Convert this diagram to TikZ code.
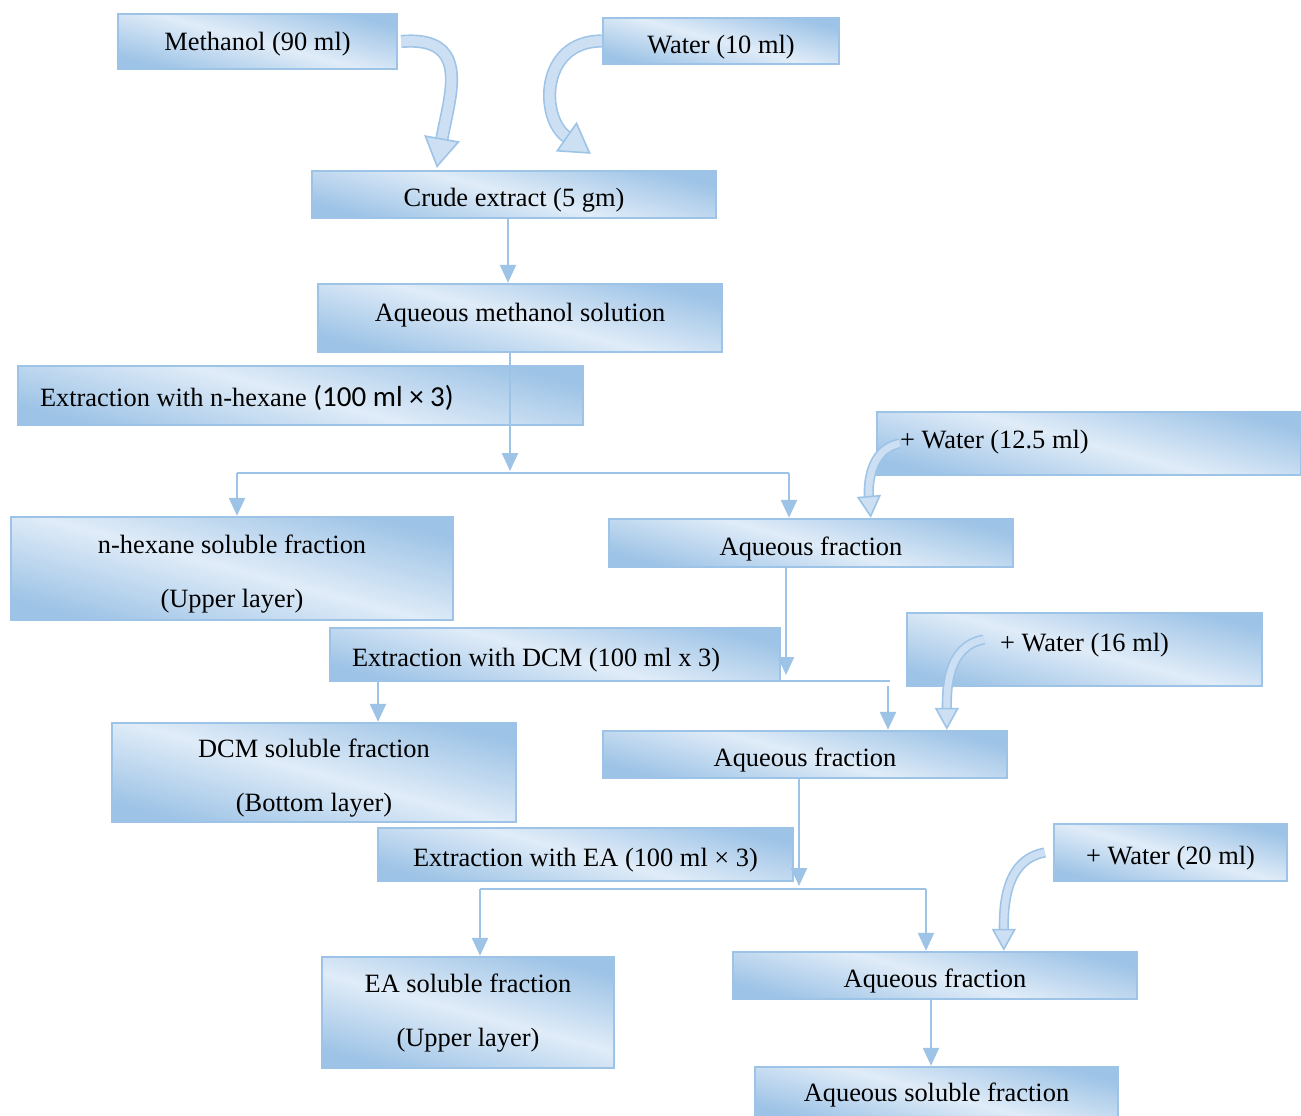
\documentclass[tikz,border=0pt]{standalone}
\usepackage{fontspec}
\setmainfont{Liberation Serif}
\newfontfamily\calfont{Carlito}
\usetikzlibrary{arrows.meta}
\definecolor{boxdark}{RGB}{157,195,230}
\definecolor{boxlight}{RGB}{224,236,248}
\definecolor{edgeblue}{RGB}{157,195,230}
\definecolor{pourfill}{RGB}{205,224,243}
\begin{document}
\begin{tikzpicture}[x=0.5pt,y=-0.5pt,
	box/.style={draw=edgeblue, line width=1.2pt, top color=boxdark, bottom color=boxdark, middle color=boxlight, shading angle=-15, inner sep=0pt, text height=15pt, font=\fontsize{13.2}{16}\selectfont, align=center},
	twoline/.style={text height=42pt},
	leftbox/.style={align=flush left, inner xsep=11pt},
	conn/.style={draw=edgeblue, line width=1.2pt},
	flow/.style={conn, -{Triangle[length=9pt,width=8pt]}},
	bigpour/.style={draw=edgeblue, line width=0.8pt, double=pourfill, double distance=5pt, -{Triangle[length=15pt,width=18pt,fill=pourfill]}},
	pour/.style={draw=edgeblue, line width=0.8pt, double=pourfill, double distance=3.5pt, -{Triangle[length=11pt,width=12pt,fill=pourfill]}}]
	\useasboundingbox (0,0) rectangle (1301,1115);
		\node[box, minimum width=139.5pt, minimum height=27.5pt, text depth=6.5pt] (meth) at (257.5,41.5) {Methanol (90 ml)};
		\node[box, minimum width=118pt, minimum height=23pt] (wat1) at (721,41) {Water (10 ml)};
		\node[box, minimum width=202pt, minimum height=23.5pt] (crude) at (514,194.5) {Crude extract (5 gm)};
		\node[box, minimum width=202pt, minimum height=34pt, text depth=12pt] (aqmeth) at (520,318) {Aqueous methanol solution};
		\node[box, leftbox, text width=260.5pt, minimum height=29.5pt, text depth=4.5pt] (hex) at (300.5,395.5) {Extraction with n-hexane {\calfont\fontsize{14.5}{16}\selectfont (100 ml × 3)}};
		\node[box, leftbox, inner xsep=11.5pt, text width=189pt, minimum height=31.5pt, text depth=10pt] (wat2) at (1089,443.5) {+ Water (12.5 ml)};
		\node[box, twoline, minimum width=221pt, minimum height=51.5pt] (hexfrac) at (232,568.5) {n-hexane soluble fraction\\[11pt](Upper layer)};
		\node[box, minimum width=202pt, minimum height=24pt] (aq1) at (811,543) {Aqueous fraction};
		\node[box, leftbox, text width=203pt, minimum height=26.5pt] (dcm) at (555,654.5) {Extraction with DCM (100 ml x 3)};
		\node[box, minimum width=177.5pt, minimum height=36.5pt, text depth=13pt] (wat3) at (1084.5,649.5) {+ Water (16 ml)};
		\node[box, twoline, minimum width=202pt, minimum height=49.5pt] (dcmfrac) at (314,772.5) {DCM soluble fraction\\[11pt](Bottom layer)};
		\node[box, minimum width=202pt, minimum height=23.5pt] (aq2) at (805,754.5) {Aqueous fraction};
		\node[box, minimum width=207.5pt, minimum height=26.5pt] (ea) at (585.5,854.5) {Extraction with EA (100 ml × 3)};
		\node[box, minimum width=116.5pt, minimum height=28.5pt] (wat4) at (1170.5,852.5) {+ Water (20 ml)};
		\node[box, twoline, text height=37pt, minimum width=146pt, minimum height=55.5pt] (eafrac) at (468,1012.5) {EA soluble fraction\\[11pt](Upper layer)};
		\node[box, minimum width=202pt, minimum height=23.5pt] (aq3) at (935,975.5) {Aqueous fraction};
		\node[box, minimum width=181.5pt, minimum height=26pt, text depth=7pt] (aqsol) at (936.5,1093) {Aqueous soluble fraction};
		\coordinate (hub1) at (510,471);
		\coordinate (hub1l) at (237,473);
		\coordinate (hub1r) at (789,473);
		\coordinate (hub2) at (786,675);
		\coordinate (hub2l) at (378,681);
		\coordinate (hub2r) at (890,681);
		\coordinate (hub3) at (799,886);
		\coordinate (hub3l) at (480,889);
		\coordinate (hub3r) at (926,889);
		\draw[flow] ([xshift=-3pt]crude.south) -- ([xshift=-6pt]aqmeth.north);
		\draw[flow] ([xshift=-5pt]aqmeth.south) -- (hub1);
		\draw[conn] (hub1l) -- (hub1r);
		\draw[flow] (hub1l) -- (hub1l |- hexfrac.north);
		\draw[flow] (hub1r) -- (hub1r |- aq1.north);
		\draw[flow] ([xshift=-12.5pt]aq1.south) -- (hub2);
		\draw[conn] (hub2r -| dcm.east) -- (hub2r);
		\draw[flow] (hub2l) -- (hub2l |- dcmfrac.north);
		\draw[flow] ([xshift=-1pt,yshift=-2.5pt]hub2r) -- ([xshift=-1pt]hub2r |- aq2.north);
		\draw[flow] ([xshift=-3pt]aq2.south) -- (hub3);
		\draw[conn] (hub3l) -- (hub3r);
		\draw[flow] (hub3l) -- (hub3l |- eafrac.north);
		\draw[flow] (hub3r) -- (hub3r |- aq3.north);
		\draw[flow] ([xshift=-2pt]aq3.south) -- ([xshift=-2.75pt]aqsol.north);
		\draw[bigpour] ([xshift=1.5pt]meth.east) to[out=5,in=80,looseness=1.4] ([xshift=63pt,yshift=1pt]crude.north west);
		\draw[bigpour] (wat1.west) to[out=180,in=145,looseness=1.4] ([xshift=140pt,yshift=8pt]crude.north west);
		\draw[pour] ([xshift=12pt]wat2.west) to[out=190,in=95] ([xshift=131.5pt]aq1.north west);
		\draw[pour] ([xshift=39pt,yshift=5pt]wat3.west) to[out=190,in=90] ([xshift=172.5pt]aq2.north west);
		\draw[pour] ([xshift=-4pt]wat4.west) to[out=190,in=90] ([xshift=136pt]aq3.north west);
	\end{tikzpicture}
\end{document}
